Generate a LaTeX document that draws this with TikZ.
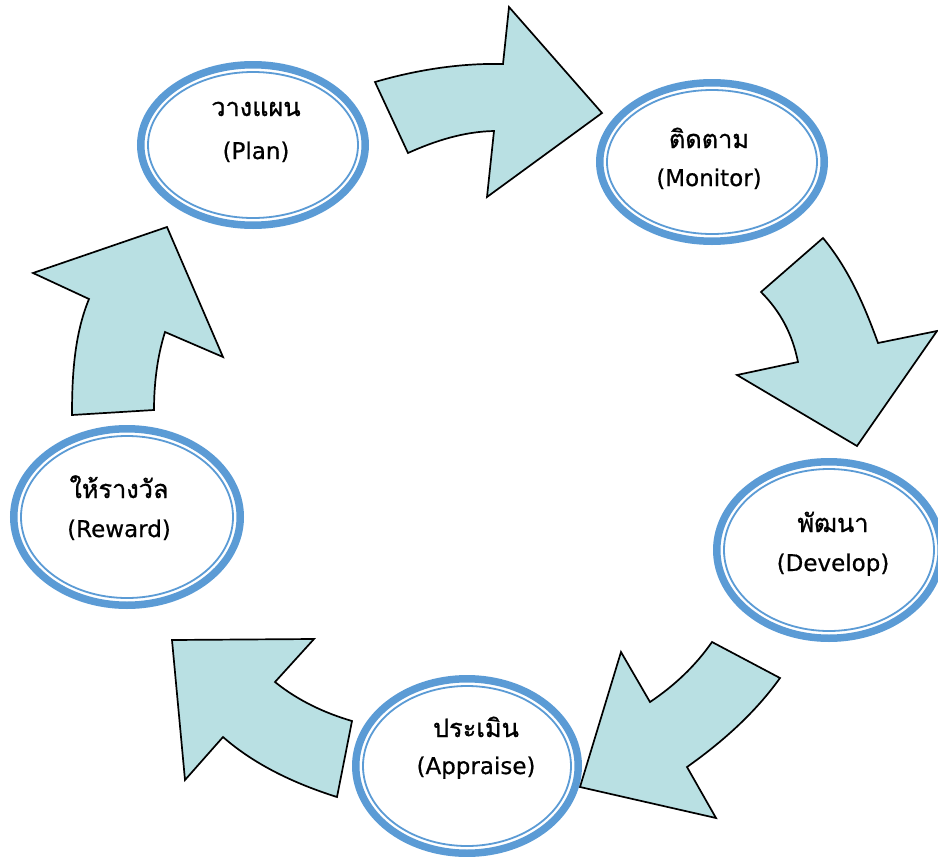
\documentclass[tikz,border=0pt]{standalone}
\usepackage{fontspec}
\setmainfont[FakeBold=0.6]{DejaVu Sans}
\newfontfamily\thaifont[Script=Thai,Scale=1.1,FakeBold=1]{Loma}
\usetikzlibrary{shapes.geometric}
\definecolor{stageblue}{HTML}{5B9BD5}
\definecolor{arrowfill}{HTML}{B9E0E3}
\tikzset{%
    stage/.style={ellipse,draw=stageblue,line width=7.5pt,fill=white,inner sep=0pt},
    stage ring/.style={draw=stageblue,line width=1.8pt},
    stage label/.style={anchor=base,inner sep=0pt,font=\fontsize{23}{28}\selectfont},
    cycle arrow/.style={draw=black,line width=1.7pt,fill=arrowfill,line join=miter},
}

\begin{document}
\begin{tikzpicture}[x=1pt,y=-1pt]
 \useasboundingbox (0,0) rectangle (938,857);
 \foreach \N/\X/\Y/\RX/\RY/\TX/\TA/\TB/\TH/\EN in
 {plan/253/145/116/84/256/116/159/วางแผน/Plan,
  monitor/712/162/116/83/709/148/186/ติดตาม/Monitor,
  develop/829/550/116/92/833/532/571/พัฒนา/Develop,
  appraise/467/766/115/91/476/737/774/ประเมิน/Appraise,
  reward/127/517/117/92/119/498/537/ให้รางวัล/Reward}
 {\node[stage,minimum width={(2*\RX-7.5)*1pt},minimum height={(2*\RY-7.5)*1pt}] (\N) at (\X,\Y) {};
  \draw[stage ring] (\N.center) ellipse [x radius={(\RX-11)*1pt},y radius={(\RY-11)*1pt}];
  \node[stage label] (\N-th) at (\TX,\TA) {\thaifont \TH};
  \node[stage label] (\N-en) at (\TX,\TB) {(\EN)};}
 \draw[cycle arrow] (375,82) .. controls (416,70) and (460,63) .. (503,64) -- (509,7) -- (602,113)
  -- (487,197) -- (494,131) .. controls (464,131.6) and (435.3,140.7) .. (408,153) -- cycle;
 \draw[cycle arrow] (823,238) .. controls (848.6,268.8) and (864.4,305.4) .. (878,343) -- (937,331)
  -- (857,446) -- (737,375) -- (798,362) .. controls (792.5,334.5) and (780.8,311.8) .. (761,292) -- cycle;
 \draw[cycle arrow] (650,702) .. controls (674,686) and (695.5,665.8) .. (712,642) -- (780,678)
  .. controls (755,713) and (722.3,742) .. (687,767) -- (716,818) -- (580,787) -- (621,652) -- cycle;
 \draw[cycle arrow] (275,682) .. controls (297.6,700.3) and (324.2,712.9) .. (352,721) -- (337,797)
  .. controls (296.1,784.1) and (255.3,765.4) .. (223,737) -- (185,780) -- (172,640) -- (314,639) -- cycle;
 \draw[cycle arrow] (154,410) .. controls (154,384) and (157.2,356.7) .. (165,332) -- (223,357)
  -- (167,227) -- (33,273) -- (89,299) .. controls (74.2,334.9) and (72,376) .. (72,415) -- cycle;
\end{tikzpicture}
\end{document}
